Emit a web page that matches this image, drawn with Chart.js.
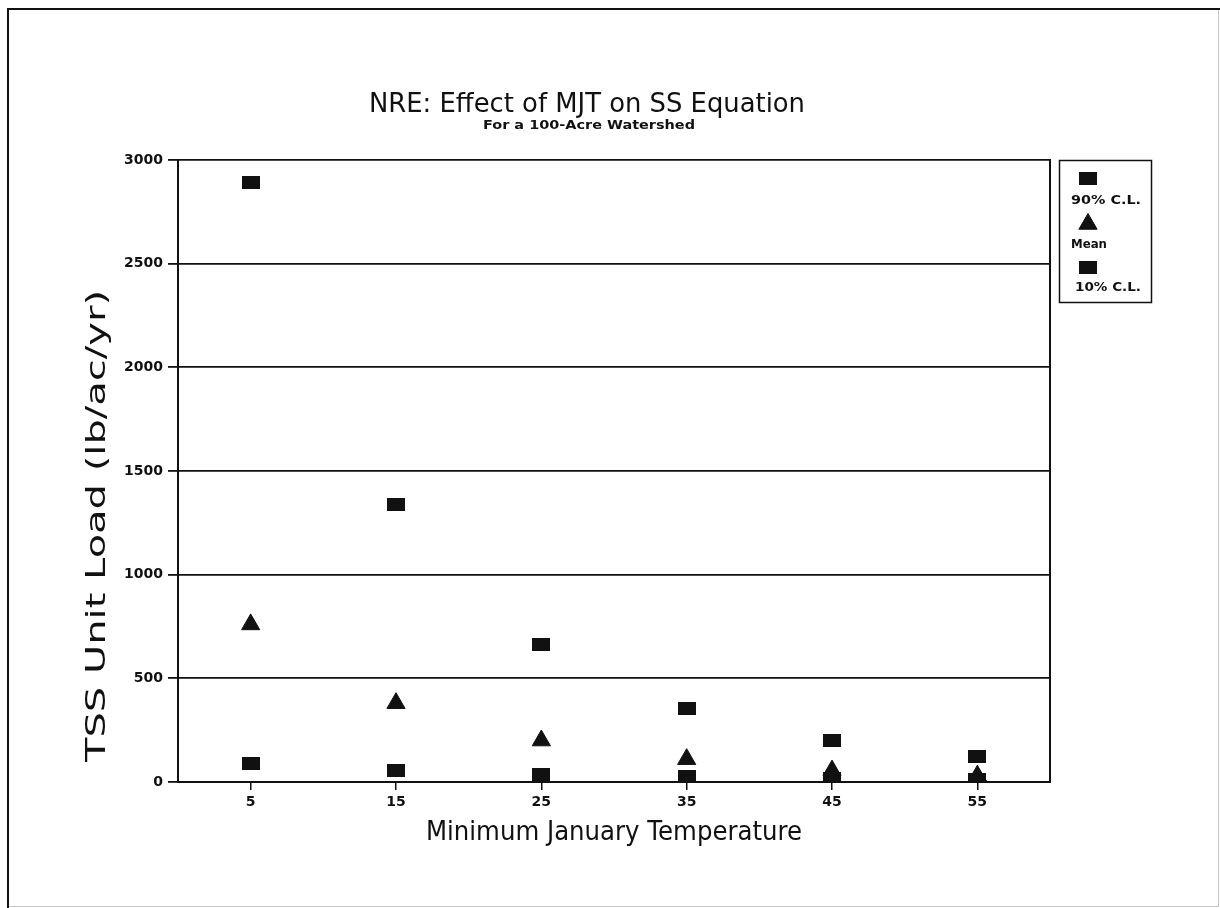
<!DOCTYPE html>
<html>
<head>
<meta charset="utf-8">
<script src="https://cdn.jsdelivr.net/npm/chart.js@4/dist/chart.umd.min.js"></script>
<style>
  html, body { margin: 0; padding: 0; background: #fff; }
  #wrap { width: 1220px; height: 908px; }
</style>
</head>
<body>
<div id="wrap"><canvas id="c" width="1220" height="908"></canvas></div>
<script>
// Minimum January temperature categories
const temperatures = ['5', '15', '25', '35', '45', '55'];
// TSS unit load, lb/ac/yr
const upper90 = [2890, 1340, 665, 355, 200, 125];
const meanLoad = [760, 380, 200, 110, 55, 30];
const lower10 = [90, 55, 35, 25, 15, 10];
const yTickValues = [0, 500, 1000, 1500, 2000, 2500, 3000];

const chartTitle = 'NRE: Effect of MJT on SS Equation';
const chartSubtitle = 'For a 100-Acre Watershed';
const xTitle = 'Minimum January Temperature';
const yTitle = 'TSS Unit Load (lb/ac/yr)';
const seriesNames = ['90% C.L.', 'Mean', '10% C.L.'];

const INK = '#111';

// Flat rectangular marker used for the confidence-limit series
function rectMarker(w, h) {
  const cv = document.createElement('canvas');
  cv.width = w; cv.height = h;
  const g = cv.getContext('2d');
  g.fillStyle = INK;
  g.fillRect(0, 0, w, h);
  return cv;
}
const boxMarker = rectMarker(18, 13);

function drawMarker(ctx, style, radius, x, y) {
  if (style instanceof HTMLCanvasElement) {
    ctx.drawImage(style, Math.round(x - style.width / 2), Math.round(y - style.height / 2));
  } else if (Chart.helpers && Chart.helpers.drawPoint) {
    ctx.fillStyle = INK; ctx.strokeStyle = INK; ctx.lineWidth = 1;
    Chart.helpers.drawPoint(ctx, { pointStyle: style, radius: radius, rotation: 0, borderWidth: 1 }, x, y);
  }
}

// Draws centred text stretched or squeezed horizontally to a given width
function fitText(ctx, text, x, y, width) {
  const w = ctx.measureText(text).width;
  ctx.save();
  ctx.translate(x, y);
  ctx.scale(width / w, 1);
  ctx.textAlign = 'center';
  ctx.fillText(text, 0, 0);
  ctx.restore();
}

const decor = {
  id: 'decor',
  beforeDraw(chart) {
    const ctx = chart.ctx;
    ctx.save();
    ctx.fillStyle = '#fff';
    ctx.fillRect(0, 0, chart.width, chart.height);
    // page frame
    ctx.strokeStyle = '#c8c8c8';
    ctx.lineWidth = 1;
    ctx.beginPath();
    ctx.moveTo(8, 906.5); ctx.lineTo(1218.5, 906.5); ctx.lineTo(1218.5, 9);
    ctx.stroke();
    ctx.strokeStyle = INK;
    ctx.lineWidth = 2;
    ctx.beginPath();
    ctx.moveTo(8, 908); ctx.lineTo(8, 9); ctx.lineTo(1220, 9);
    ctx.stroke();
    ctx.restore();
  },
  afterDraw(chart) {
    const ctx = chart.ctx;
    const a = chart.chartArea;
    ctx.save();
    ctx.fillStyle = INK;
    ctx.strokeStyle = INK;

    // right edge of the plot frame
    ctx.lineWidth = 2;
    ctx.beginPath();
    ctx.moveTo(a.right, a.top - 1); ctx.lineTo(a.right, a.bottom + 1);
    ctx.stroke();

    // titles
    ctx.textBaseline = 'alphabetic';
    ctx.font = '26px "DejaVu Sans"';
    fitText(ctx, chartTitle, 587, 112, 436);
    ctx.font = 'bold 12px "DejaVu Sans"';
    fitText(ctx, chartSubtitle, 589, 129, 212);

    // x axis title
    ctx.font = '26px "DejaVu Sans"';
    fitText(ctx, xTitle, (a.left + a.right) / 2, 840, 376);

    // y axis title
    ctx.save();
    ctx.translate(105, 526);
    ctx.rotate(-Math.PI / 2);
    ctx.font = '26px "DejaVu Sans"';
    fitText(ctx, yTitle, 0, 0, 472);
    ctx.restore();

    // legend
    const lx = a.right + 9, ly = a.top, lw = 92, lh = 142;
    ctx.lineWidth = 1.5;
    ctx.strokeRect(lx + 0.5, ly + 0.5, lw, lh);
    const rows = [178, 224, 267];
    const textY = [204, 248, 291];
    const textX = [1106, 1089, 1108];
    const textW = [70, 36, 66];
    chart.data.datasets.forEach((ds, i) => {
      drawMarker(ctx, ds.pointStyle, ds.pointRadius, 1088, rows[i]);
      ctx.fillStyle = INK;
      ctx.font = 'bold 13px "DejaVu Sans"';
      fitText(ctx, ds.label, textX[i], textY[i], textW[i]);
    });
    ctx.restore();
  }
};

new Chart(document.getElementById('c'), {
  type: 'line',
  data: {
    labels: temperatures,
    datasets: [
      { label: seriesNames[0], data: upper90, showLine: false, pointStyle: boxMarker, pointRadius: 9,
        backgroundColor: INK, borderColor: INK },
      { label: seriesNames[1], data: meanLoad, showLine: false, pointStyle: 'triangle', pointRadius: 10.5,
        backgroundColor: INK, borderColor: INK, borderWidth: 1 },
      { label: seriesNames[2], data: lower10, showLine: false, pointStyle: boxMarker, pointRadius: 9,
        backgroundColor: INK, borderColor: INK }
    ]
  },
  options: {
    responsive: false,
    animation: false,
    devicePixelRatio: 1,
    layout: { padding: { top: 160, right: 170, bottom: 0, left: 0 } },
    plugins: {
      legend: { display: false },
      title: { display: false },
      tooltip: { enabled: false }
    },
    scales: {
      x: {
        type: 'category',
        offset: true,
        afterFit(scale) { scale.height = 126; },
        grid: { display: true, drawOnChartArea: false, drawTicks: true, tickLength: 8, color: INK, lineWidth: 1.5 },
        border: { display: true, color: INK, width: 2 },
        ticks: { color: INK, padding: 4, font: { family: '"DejaVu Sans"', size: 14, weight: 'bold' } }
      },
      y: {
        min: 0,
        max: 3000,
        afterFit(scale) { scale.width = 178; },
        afterBuildTicks(scale) { scale.ticks = yTickValues.map(v => ({ value: v })); },
        grid: { color: INK, lineWidth: 1.8, drawTicks: true, tickLength: 10 },
        border: { display: true, color: INK, width: 2 },
        ticks: {
          color: INK, padding: 5,
          font: { family: '"DejaVu Sans"', size: 14, weight: 'bold' },
          callback: (v) => String(v)
        }
      }
    }
  },
  plugins: [decor]
});
</script>
</body>
</html>
